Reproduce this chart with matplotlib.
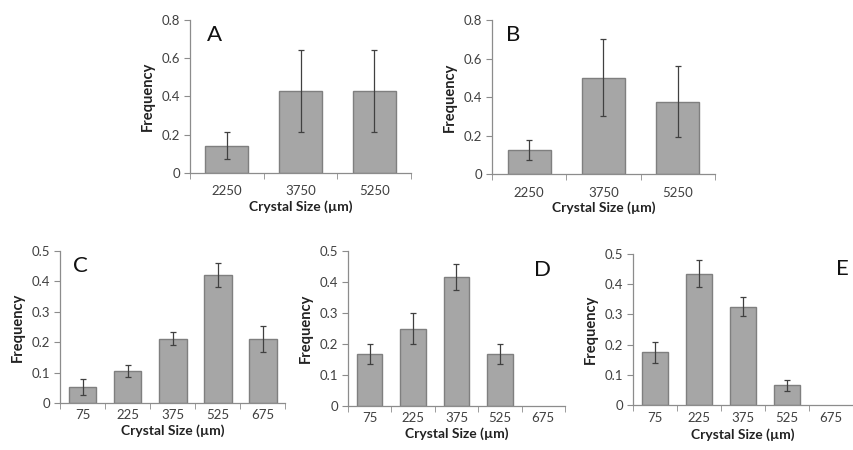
import numpy as np
import matplotlib
matplotlib.use('Agg')
import matplotlib.pyplot as plt

plt.rcParams['font.family'] = ['Lato', 'DejaVu Sans']

# data
sizes_large = ['2250', '3750', '5250']
sizes_small = ['75', '225', '375', '525', '675']

freq_a = [0.143, 0.429, 0.429]
err_a = [0.072, 0.214, 0.214]
freq_b = [0.125, 0.500, 0.375]
err_b = [0.050, 0.200, 0.185]
freq_c = [0.053, 0.105, 0.211, 0.421, 0.211]
err_c = [0.026, 0.020, 0.021, 0.041, 0.043]
freq_d = [0.167, 0.250, 0.417, 0.167, 0.0]
err_d = [0.033, 0.050, 0.042, 0.033, 0.0]
freq_e = [0.174, 0.435, 0.326, 0.065, 0.0]
err_e = [0.034, 0.045, 0.032, 0.019, 0.0]

bar_col = '#a6a6a6'
edge_col = '#7f7f7f'
axis_col = '#8c8c8c'
text_col = '#404040'

panels = [
    # rect, labels, values, errors, ylim, yticks, ticklabels, letter, letter pos, bar width, tick pad, label pad
    ([0.2225, 0.6156, 0.2588, 0.34], sizes_large, freq_a, err_a, 0.8,
     [0, 0.2, 0.4, 0.6, 0.8], ['0', '0.2', '0.4', '0.6', '0.8'], 'A', (0.11, 0.9), 0.58, 9, 2),
    ([0.5761, 0.6133, 0.2611, 0.3422], sizes_large, freq_b, err_b, 0.8,
     [0, 0.2, 0.4, 0.6, 0.8], ['0', '0.2', '0.4', '0.6', '0.8'], 'B', (0.095, 0.9), 0.58, 9, 2),
    ([0.0703, 0.1044, 0.2635, 0.3378], sizes_small, freq_c, err_c, 0.5,
     [0, 0.1, 0.2, 0.3, 0.4, 0.5], ['0', '0.1', '0.2', '0.3', '0.4', '0.5'], 'C', (0.09, 0.9), 0.62, 4, 3),
    ([0.4075, 0.0978, 0.254, 0.3444], sizes_small, freq_d, err_d, 0.5,
     [0, 0.1, 0.2, 0.3, 0.4, 0.5], ['0', '0.1', '0.2', '0.3', '0.4', '0.5'], 'D', (0.895, 0.88), 0.59, 4, 3),
    ([0.7412, 0.10, 0.2576, 0.3356], sizes_small, freq_e, err_e, 0.5,
     [0, 0.1, 0.2, 0.3, 0.4, 0.5], ['0', '0.1', '0.2', '0.3', '0.4', '0.5'], 'E', (0.95, 0.9), 0.59, 5, 3),
]

fig = plt.figure(figsize=(8.54, 4.5), dpi=100)

for rect, labels, vals, errs, ymax, yt, ytl, letter, lpos, bw, tpad, lpad in panels:
    ax = fig.add_axes(rect)
    x = np.arange(len(labels))
    for xi, v, e in zip(x, vals, errs):
        if v <= 0:
            continue
        ax.bar(xi, v, width=bw, color=bar_col, edgecolor=edge_col, linewidth=1.0, zorder=2)
        ax.errorbar(xi, v, yerr=e, fmt='none', ecolor='#404040', elinewidth=0.9,
                    capsize=2.5, capthick=0.9, zorder=3)
    ax.set_xlim(-0.5, len(labels) - 0.5)
    ax.set_ylim(0, ymax)
    ax.set_xticks(x)
    ax.set_xticklabels(labels)
    ax.set_xticks(np.arange(len(labels) + 1) - 0.5, minor=True)
    ax.set_yticks(yt)
    ax.set_yticklabels(ytl)
    ax.tick_params(axis='x', which='major', length=0, pad=tpad, labelsize=9.5, labelcolor=text_col)
    ax.tick_params(axis='x', which='minor', length=4, color=axis_col, direction='out')
    ax.tick_params(axis='y', length=4, color=axis_col, labelsize=9.5, labelcolor=text_col, pad=3)
    for s in ['top', 'right']:
        ax.spines[s].set_visible(False)
    for s in ['left', 'bottom']:
        ax.spines[s].set_color(axis_col)
        ax.spines[s].set_linewidth(0.9)
    ax.set_xlabel('Crystal Size (µm)', fontsize=10, fontweight='bold', color='#222222', labelpad=lpad)
    ax.set_ylabel('Frequency', fontsize=10.5, fontweight='bold', color='#222222', labelpad=5)
    ax.text(lpos[0], lpos[1], letter, transform=ax.transAxes, fontsize=16,
            ha='center', va='center', color='#111111')

fig.savefig('out.png', dpi=100)
